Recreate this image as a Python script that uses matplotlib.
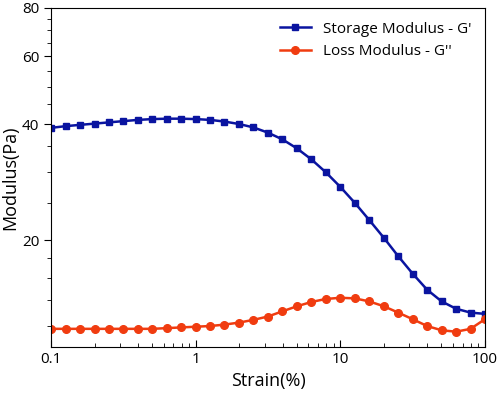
import matplotlib
matplotlib.use("Agg")
import matplotlib.pyplot as plt
from matplotlib.ticker import FixedLocator, LogLocator, NullFormatter, FixedFormatter

plt.rcParams['font.family'] = ['Open Sans', 'DejaVu Sans']

strain = [0.1, 0.126, 0.158, 0.2, 0.251, 0.316, 0.398, 0.501, 0.631, 0.794,
          1.0, 1.26, 1.58, 2.0, 2.51, 3.16, 3.98, 5.01, 6.31, 7.94,
          10.0, 12.6, 15.8, 20.0, 25.1, 31.6, 39.8, 50.1, 63.1, 79.4, 100.0]
storage = [39.1, 39.5, 39.8, 40.1, 40.4, 40.7, 41.0, 41.2, 41.3, 41.3,
           41.2, 41.0, 40.6, 40.0, 39.2, 38.0, 36.5, 34.6, 32.4, 30.0,
           27.5, 25.0, 22.6, 20.3, 18.2, 16.4, 14.9, 13.9, 13.3, 13.0, 12.9]
loss = [11.8, 11.8, 11.8, 11.8, 11.8, 11.8, 11.8, 11.8, 11.85, 11.9,
        11.95, 12.0, 12.1, 12.25, 12.45, 12.7, 13.1, 13.5, 13.85, 14.1,
        14.2, 14.15, 13.9, 13.5, 13.0, 12.5, 12.0, 11.7, 11.6, 11.8, 12.5]
yticks = [20, 40, 60, 80]
xticks = [0.1, 1, 10, 100]
xticklabels = ['0.1', '1', '10', '100']

fig = plt.figure(figsize=(5.0, 4.09), dpi=100)
ax = fig.add_axes([0.102, 0.152, 0.868, 0.829])
ax.plot(strain, storage, '-s', color='#0a14a0', lw=1.8, ms=5, label="Storage Modulus - G'")
ax.plot(strain, loss, '-o', color='#f03c10', lw=1.8, ms=5.5, label="Loss Modulus - G''")
ax.set_xscale('log'); ax.set_yscale('log')
ax.set_xlim(0.1, 100); ax.set_ylim(10.6, 80)
ax.xaxis.set_major_locator(FixedLocator(xticks))
ax.xaxis.set_major_formatter(FixedFormatter(xticklabels))
ax.xaxis.set_minor_locator(LogLocator(subs=range(2, 10)))
ax.xaxis.set_minor_formatter(NullFormatter())
ax.yaxis.set_major_locator(FixedLocator(yticks))
ax.yaxis.set_major_formatter(FixedFormatter([str(v) for v in yticks]))
ax.yaxis.set_minor_locator(FixedLocator([12, 14, 16, 18, 25, 30, 35, 45, 50, 55, 65, 70, 75]))
ax.yaxis.set_minor_formatter(NullFormatter())
ax.tick_params(axis='x', which='both', direction='in', labelsize=11)
ax.tick_params(axis='x', which='major', length=5)
ax.tick_params(axis='x', which='minor', length=3)
ax.tick_params(axis='y', which='both', direction='out', labelsize=11)
ax.tick_params(axis='y', which='major', length=5)
ax.tick_params(axis='y', which='minor', length=3)
ax.set_xlabel('Strain(%)', fontsize=13)
ax.set_ylabel('Modulus(Pa)', fontsize=13, labelpad=2)
ax.legend(loc='upper right', frameon=False, fontsize=11)
fig.savefig('out.png', dpi=100)
